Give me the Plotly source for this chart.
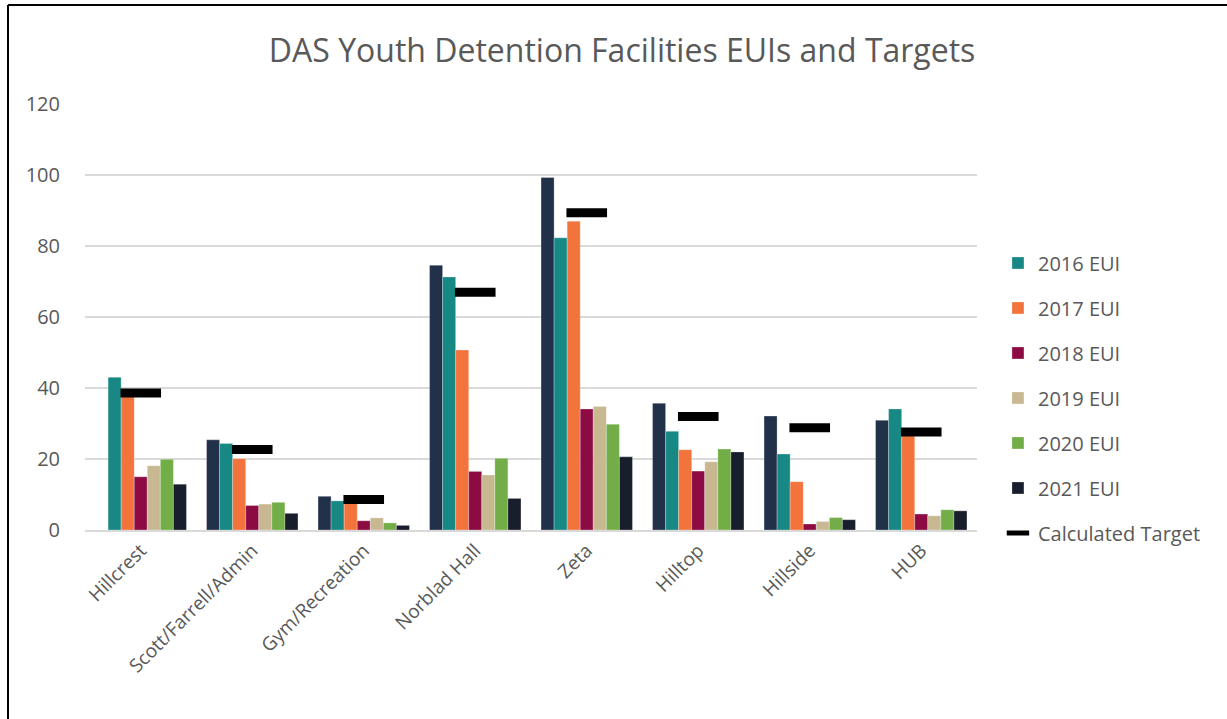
import plotly.graph_objects as go

categories = ["Hillcrest", "Scott/Farrell/Admin", "Gym/Recreation", "Norblad Hall",
              "Zeta", "Hilltop", "Hillside", "HUB"]

baseline_eui = [None, 25.4, 9.5, 74.6, 99.3, 35.7, 32.1, 30.9]
eui_2016 = [43.0, 24.4, 8.2, 71.3, 82.3, 27.8, 21.4, 34.1]
eui_2017 = [37.5, 20.1, 7.5, 50.7, 87.0, 22.6, 13.6, 26.5]
eui_2018 = [15.0, 6.9, 2.6, 16.5, 34.1, 16.6, 1.7, 4.5]
eui_2019 = [18.1, 7.3, 3.4, 15.5, 34.8, 19.2, 2.4, 4.0]
eui_2020 = [19.9, 7.8, 2.0, 20.2, 29.8, 22.8, 3.5, 5.7]
eui_2021 = [12.9, 4.7, 1.3, 8.9, 20.6, 22.0, 2.9, 5.4]
calculated_target = [38.6, 22.7, 8.6, 67.0, 89.4, 32.0, 28.8, 27.6]

series = [
    ("Baseline EUI", baseline_eui, "#22314a", False),
    ("2016 EUI", eui_2016, "#178884", True),
    ("2017 EUI", eui_2017, "#f3733c", True),
    ("2018 EUI", eui_2018, "#8c0b42", True),
    ("2019 EUI", eui_2019, "#c8b892", True),
    ("2020 EUI", eui_2020, "#73ad47", True),
    ("2021 EUI", eui_2021, "#181e2b", True),
]

FONT = "Open Sans, Noto Sans, sans-serif"
GRAY = "#595959"

fig = go.Figure()
for i, (name, vals, color, show) in enumerate(series):
    fig.add_trace(go.Bar(
        x=categories, y=vals, name=name, showlegend=show,
        legendgroup=f"g{i}",
        marker=dict(color=color, line=dict(color="rgba(255,255,255,0.35)", width=0.8)),
    ))

fig.add_trace(go.Scatter(
    x=categories, y=calculated_target, name="Calculated Target",
    mode="markers", legendgroup="target",
    marker=dict(symbol="line-ew", size=29, color="black",
                line=dict(color="black", width=9)),
))

fig.update_layout(
    width=1227, height=719,
    paper_bgcolor="white", plot_bgcolor="white",
    barmode="group", bargap=0.18, bargroupgap=0,
    margin=dict(l=85, r=250, t=104, b=189, autoexpand=False),
    title=dict(text="DAS Youth Detention Facilities EUIs and Targets",
               x=0.507, xanchor="center", y=0.93, yanchor="middle",
               font=dict(family=FONT, size=32, color=GRAY)),
    font=dict(family=FONT, color=GRAY),
    legend=dict(x=1.0235, xanchor="left", y=0.31, yanchor="middle",
                font=dict(family=FONT, size=20, color=GRAY),
                tracegroupgap=16, itemwidth=30, traceorder="grouped",
                bgcolor="rgba(0,0,0,0)"),
    xaxis=dict(range=[-0.5, 7.5], tickangle=-45,
               tickfont=dict(family=FONT, size=19, color=GRAY),
               showline=True, linecolor="#d9d9d9", linewidth=2,
               showgrid=False, ticks=""),
    yaxis=dict(range=[0, 120], dtick=20, tickfont=dict(family=FONT, size=20, color=GRAY),
               showgrid=True, gridcolor="#d9d9d9", gridwidth=1.5,
               zeroline=False, showline=False, ticks="outside", ticklen=20,
               tickcolor="rgba(0,0,0,0)"),
    shapes=[
        dict(type="line", xref="paper", yref="paper",
             x0=(8 - 85) / 892, x1=(8 - 85) / 892, y0=(530 - 5) / 426, y1=(530 - 730) / 426,
             line=dict(color="black", width=2)),
        dict(type="line", xref="paper", yref="paper",
             x0=(8 - 85) / 892, x1=(1240 - 85) / 892, y0=(530 - 5) / 426, y1=(530 - 5) / 426,
             line=dict(color="black", width=2)),
    ],
)

fig.write_html("out.html")
